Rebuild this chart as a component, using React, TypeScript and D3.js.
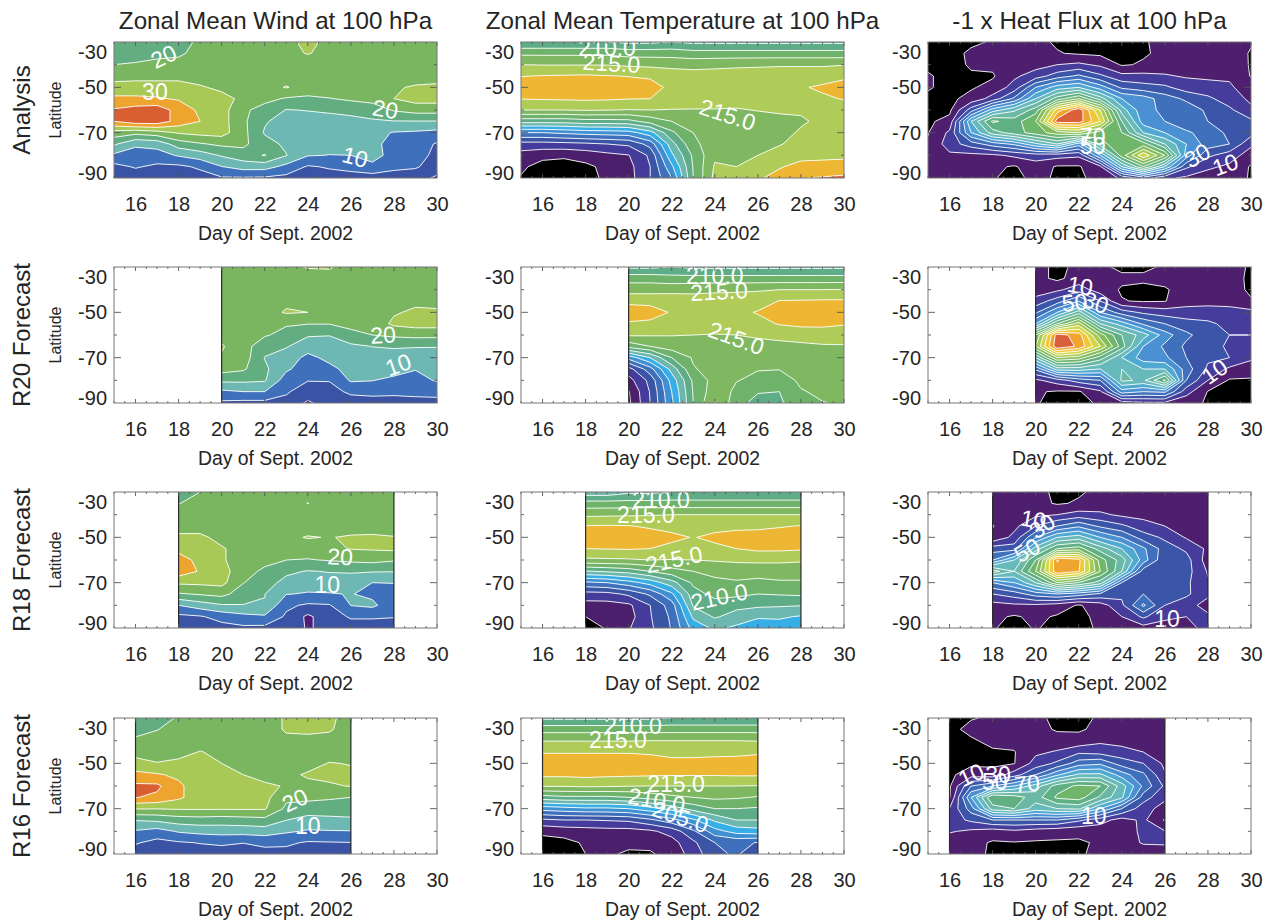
import React, { useEffect, useRef } from 'react';
import * as d3 from 'd3';

// every grid is listed by day (outer) and latitude (inner, -30 down to -90 every 5 deg)
const lats = [-30, -35, -40, -45, -50, -55, -60, -65, -70, -75, -80, -85, -90];
const dayTicks = [16, 18, 20, 22, 24, 26, 28, 30];
const latTicks = [-30, -50, -70, -90];

const rowNames = ['Analysis', 'R20 Forecast', 'R18 Forecast', 'R16 Forecast'];
const colTitles = ['Zonal Mean Wind at 100 hPa', 'Zonal Mean Temperature at 100 hPa', '-1 x Heat Flux at 100 hPa'];
const firstDays = [15, 20, 18, 16];

const windLevels = [0, 5, 10, 15, 20, 25, 30, 35, 40];
const windColors = ['#4e1d78', '#3b53a4', '#3f70bb', '#6eb8b4', '#62ae80', '#7ab660', '#a9c957', '#eea52f', '#d95f32', '#e67a50'];
const tempLevels = [190, 192.5, 195, 197.5, 200, 202.5, 205, 207.5, 210, 212.5, 215, 217.5, 220];
const tempColors = ['#000000', '#4b1f6c', '#443b9a', '#3b55a6', '#3f70bb', '#3f90d2', '#37aee5', '#6cb8ae', '#5fad86', '#6fb26a', '#7fb860', '#b0cc58', '#eeb733', '#d0683a'];
const heatLevels = [0, 10, 20, 30, 40, 50, 60, 70, 80, 90, 100, 110, 120, 130, 140, 150];
const heatColors = ['#000000', '#4e1f6e', '#463c9c', '#3b55a8', '#3f70bb', '#4a90d2', '#4fa9d0', '#68b9bc', '#6bb9a4', '#60b084', '#70b66a', '#84bc5c', '#a9c957', '#d3d84a', '#f0c83a', '#efa52f', '#d9603a'];

const windAnalysis = [
  [16, 17, 20, 23, 27, 31, 35.5, 35, 23, 15.8, 9, 3.5, 2],
  [17, 18, 20.5, 23.5, 27, 31, 37, 38, 21.5, 10.8, 8, 5.5, 2],
  [18, 19, 21, 23.5, 27, 30.5, 38, 38, 23, 11.7, 8, 4, 2],
  [19, 19.5, 21, 23.5, 27, 29.5, 33, 33, 25.5, 17.5, 10.5, 4, 2],
  [20.5, 21, 22, 23, 25.5, 28, 29, 30, 26.5, 19.5, 12.5, 5.8, 3],
  [22, 22, 22, 22, 24, 26.5, 27, 27, 27, 21, 15.5, 9.9, 4.5],
  [23, 23, 22, 22, 23, 24, 21, 21, 21.5, 21, 18, 12, 4.5],
  [23, 23, 22, 22, 23, 21.5, 18, 15.5, 14.5, 17, 20.3, 12, 4.3],
  [24, 24, 23, 23, 25.3, 19.5, 14.8, 13, 12, 14, 15.2, 8.5, 3.5],
  [26, 25.2, 23, 23, 23, 19, 15.2, 13, 12, 12, 10.3, 4.5, 3],
  [24, 24, 23, 23, 23, 19.8, 15.8, 13, 11.5, 11.5, 9.9, 5.5, 3],
  [23, 23, 23, 23, 23, 20.8, 16.5, 13.5, 11.5, 11, 10, 6.5, 3],
  [23, 23, 23, 23, 23.5, 22, 17, 14.5, 11.5, 11.5, 13, 8, 3],
  [23, 23, 23, 23, 24.5, 25, 20.5, 14.8, 9.7, 8, 7, 6, 3],
  [23, 23, 23, 23, 25.5, 27, 22, 14.8, 9.3, 7.5, 6.5, 5.5, 2.5],
  [23, 23, 23, 23, 26, 27, 22, 14.8, 8.5, 4.5, 4, 3, -1],
];
const windR20 = [
  [22.5, 22, 22, 22, 22.5, 23, 23.5, 25.5, 24.5, 22, 16, 9, 4],
  [23, 22, 22, 22, 22, 22, 22, 22, 22.5, 20.7, 16, 10, 3.5],
  [23, 23, 23, 23, 23, 21, 20.5, 17, 14.8, 16, 15.5, 10, 3.5],
  [24, 23, 23, 24, 25.5, 20.5, 18.5, 15.5, 12, 10.8, 7.5, 5.6, 3.5],
  [25.3, 23, 23, 24, 25, 20.2, 15.6, 11.7, 9, 7.5, 5.2, 2.5, -0.8],
  [25.5, 23, 23, 23, 23, 20.2, 15.2, 12.5, 11, 9, 5.2, 3.5, 2.5],
  [23, 23, 23, 23, 23, 21.5, 18.5, 14, 12, 11.3, 10.6, 5.8, 3],
  [23, 23, 23, 23, 23.5, 22, 20, 15.1, 13, 12, 10.2, 6, 3.5],
  [23, 23, 23, 23.5, 24.5, 26, 21, 15.5, 13, 12.5, 8.5, 5.8, 3.5],
  [23, 23, 23, 24, 25.8, 27, 21.5, 15.3, 12.5, 10.2, 8.5, 5.8, 4],
  [23, 23, 23, 24, 25.5, 27, 21.5, 15.2, 13, 11.5, 10.4, 6.5, 3.5],
];
const windR18 = [
  [17, 19.8, 22, 23, 26, 28, 33, 33, 25.8, 19.5, 10, 3.8, 2],
  [20, 22, 23, 23, 26, 28, 28, 29.5, 26, 20.5, 12.5, 4.5, 2.5],
  [22, 23, 23, 23, 23.5, 25.5, 25.5, 27, 26.5, 21.5, 14.5, 6.8, 3.2],
  [23, 23, 23, 23, 23, 23, 23, 22, 20.2, 17.5, 14.8, 8.5, 4],
  [23, 23, 23, 23, 23, 23, 21.5, 19, 17, 15.1, 14.8, 9.3, 3.7],
  [23, 23, 23, 23, 24, 22.5, 20, 16, 13.5, 10.2, 6, 4.2, 3],
  [23, 25.1, 23, 23, 25.3, 22.5, 19.7, 14.7, 12, 9.6, 4.2, -1, -0.5],
  [23, 23, 23, 23, 24.8, 24, 20.3, 15.3, 12.5, 9.7, 4.6, 3, 1.5],
  [23, 23, 23, 23, 25.5, 25.2, 21, 15.5, 12.5, 10.2, 10.1, 5.5, 3],
  [23, 23, 23, 23, 25.7, 25.5, 21.5, 15.3, 10, 9, 11, 5.5, 3],
  [23, 23, 23, 23, 25.2, 26, 20.5, 15.2, 10.1, 8.5, 7, 5.2, 3],
];
const windR16 = [
  [16.5, 19, 20.5, 23.5, 26.5, 31.5, 36, 35.2, 25.3, 15.3, 9.5, 5.5, 2.5],
  [18, 19.8, 22, 23, 25.2, 30.5, 36, 34, 25.2, 16, 8, 3.5, 2],
  [20.5, 22, 23, 23.5, 26, 29, 31, 31, 25.5, 17.5, 10.5, 4.5, 2.5],
  [22, 23, 23, 25.2, 27, 27.5, 27, 27, 25.5, 18, 11.5, 5.2, 3],
  [23, 23, 23, 24, 25, 26.5, 27, 27, 25.5, 17.5, 12, 5.7, 3],
  [23, 23, 23, 23, 23.5, 25, 26, 27, 25.5, 18, 12, 5.1, 3],
  [23, 23, 23, 23, 23, 24, 25.5, 26.5, 25.5, 18.5, 12.5, 6, 3.5],
  [25.5, 25.5, 24, 23, 23, 24, 24.8, 21, 19, 15.1, 10.7, 5.8, 3.5],
  [26, 25.8, 24, 23, 23.5, 25.5, 24, 21, 18, 13, 9.5, 4.5, 3],
  [26, 25.5, 23.5, 23, 25.2, 26, 24.5, 20.5, 18, 13.5, 9.7, 4.7, 3],
  [23, 23, 23, 23, 24.8, 25.8, 25.2, 20, 18, 14, 9.8, 4.9, 3],
];

const tempAnalysis = [
  [207.5, 212, 215, 217.4, 219, 217.6, 215, 208.5, 200, 194, 191.5, 190.5, 189.8],
  [207.5, 212, 214.9, 217.6, 219, 217.7, 215, 208.5, 200, 194, 190.8, 189, 188.5],
  [207.5, 212, 214.9, 217.7, 219.2, 217.8, 215, 208.5, 200.5, 194.2, 190.5, 188.8, 188.3],
  [207.5, 212, 214.9, 217.8, 219.2, 217.9, 215.2, 209, 201, 194.5, 191, 189.5, 189.5],
  [207.5, 212, 214.9, 217.6, 219, 217.8, 215.1, 209, 201.2, 195, 191.8, 190.6, 190.3],
  [207, 211.5, 214.6, 217.4, 219, 217.6, 214.9, 209.2, 201.5, 195.5, 192.4, 191.7, 191.5],
  [207, 211.5, 214.4, 217.2, 218.3, 217.5, 215, 211, 204, 198.5, 195.5, 195, 195],
  [207.5, 211.5, 214.2, 216.5, 217, 216.5, 214.9, 212.5, 209.5, 206.5, 204.5, 202, 200],
  [207, 211, 214.2, 216, 216.5, 216, 214.9, 213.5, 212.5, 212, 210.5, 210.2, 210],
  [207, 211, 214.4, 216, 216.5, 216, 214.9, 214, 213.5, 213.6, 214.5, 215.3, 215.7],
  [207, 211, 214.6, 216, 216.5, 216, 214.8, 214, 213.7, 214, 214.6, 215, 216],
  [207, 211, 214.7, 216, 216.5, 216, 215.1, 214, 213.8, 214.2, 215, 216, 217.2],
  [207, 211, 214.8, 216, 216.5, 216, 215.3, 214.4, 214.2, 214.8, 216.2, 217.3, 218.3],
  [207, 211, 214.8, 216, 217.2, 216.6, 215.3, 214.7, 215.3, 216, 216.8, 218.2, 219.9],
  [207, 211, 214.8, 216, 218, 217, 215.6, 215.5, 215.7, 216.2, 217, 218.2, 220.2],
  [207, 211, 214.9, 217, 218.5, 217.7, 215.8, 215.6, 215.7, 216.2, 217.3, 217.9, 220.7],
];
const tempR20 = [
  [207, 211.5, 214, 216.8, 219, 217.2, 215.3, 211, 201, 194, 191.5, 189.8, 189.5],
  [207, 211.5, 214, 216.8, 218.5, 217, 215.2, 212.5, 205, 199, 195.8, 195.2, 195],
  [207.5, 211, 214.2, 216.5, 217.3, 216.8, 215.1, 213.8, 210, 206, 203.5, 202.5, 202],
  [207, 211, 214.4, 216, 216.5, 216.2, 215, 214, 212.8, 212.3, 210.5, 210.2, 210],
  [207, 211, 214.6, 216, 216.3, 216, 214.9, 214, 213.5, 213.4, 213.5, 214, 215.2],
  [207, 211, 214.7, 216, 216.8, 216, 215, 214.2, 213.7, 213.2, 212.6, 212, 211],
  [207, 211, 214.8, 216.2, 217.7, 216.6, 215.3, 214.3, 213.4, 212.6, 212, 210.2, 209],
  [207, 211, 215, 217.6, 218.5, 217.7, 215.6, 214.4, 213.4, 212.6, 211.2, 210, 209.6],
  [207, 211, 215, 217.7, 218.7, 218.1, 216, 214.5, 213.6, 213, 213, 212.3, 211.5],
  [207, 211, 215, 217.8, 218.7, 218, 216.4, 214.7, 214, 213.8, 213.5, 213, 212.4],
  [207, 211, 215.1, 217.8, 218.7, 217.7, 216.2, 214.8, 214, 214, 213.6, 213.1, 212.8],
];
const tempR18 = [
  [206, 211, 214.5, 217.6, 219, 217.5, 214.5, 207.3, 199.5, 194, 191.5, 190, 189],
  [206, 211, 214.6, 217.7, 219, 217.6, 214.6, 207.8, 200, 194.2, 191.5, 190.5, 190.2],
  [207, 211, 214.7, 217.6, 218.8, 217.7, 214.7, 208.5, 201.5, 195.5, 192, 191.5, 192.3],
  [207, 211, 214.8, 217.2, 218.5, 217.5, 215, 210, 203.5, 198, 195, 194.8, 194.5],
  [207.5, 211, 215, 216.8, 218, 216.9, 214.9, 211.5, 206.5, 202, 198.8, 198, 197.7],
  [207.5, 211, 215, 216.5, 217.4, 216.6, 215, 212.5, 210.5, 209, 207.8, 205.5, 203.5],
  [207.5, 211, 215, 216.8, 218, 217, 215.2, 213.3, 211.8, 210.7, 209, 207.8, 205.5],
  [207.5, 211, 215, 217, 218.3, 217.5, 215.4, 213.6, 212.2, 210.6, 208.2, 206.5, 204.5],
  [207.5, 211, 215, 217, 218.5, 218, 215.6, 213.3, 212, 210, 208, 205.2, 204],
  [207.5, 211, 215, 217.3, 218.7, 218, 215.5, 213.6, 212.2, 210.2, 207.8, 205.3, 204],
  [207.5, 211, 215, 217.6, 218.8, 217.8, 215.3, 213.6, 212.2, 210.4, 207.6, 204.8, 203.8],
];
const tempR16 = [
  [207, 211.5, 214.9, 217.3, 219, 218, 215.2, 209, 201, 194.5, 190.6, 189, 188.5],
  [207, 211.5, 214.9, 217.3, 219, 218, 215.2, 209.5, 201.5, 195, 191, 189.3, 189],
  [207, 211.5, 214.9, 217.3, 219, 218.2, 215.4, 209.5, 202, 195, 191.3, 190.3, 190],
  [207, 211.5, 214.9, 217.3, 219, 218, 215.3, 209.5, 202, 195.2, 191.5, 190.8, 190.3],
  [207, 211.5, 214.9, 217.3, 219, 217.9, 215.1, 210, 202.5, 195.5, 191.5, 190.5, 189.7],
  [207, 211.5, 215, 217.2, 218.5, 217.8, 215, 211, 204, 197, 192, 190.7, 189.7],
  [207.5, 211.5, 215, 217, 218, 217.7, 215, 212, 206, 199, 193.5, 191.5, 191],
  [207.5, 211.5, 215, 217, 218, 217.7, 215, 212.5, 208.5, 202, 197, 194.5, 193.5],
  [207.5, 211.5, 215, 217, 218.2, 217.7, 215, 213, 210, 205.5, 201.5, 197.5, 197],
  [207.5, 211.5, 215, 217, 218.3, 217.8, 215, 212.8, 210, 207.5, 203.5, 198, 197.8],
  [207.5, 211.5, 214.9, 217.2, 218.5, 217.8, 214.9, 212.3, 209.7, 207.5, 204, 197.4, 196],
];

const heatAnalysis = [
  [-3, -3, -2, 1, 1, -2, -2, -1.5, -0.5, 1, 2, 2, 2],
  [-4, -4, -3, -3, -3, -2, -2, 3, 12, 15, 8, 3, 3],
  [-2, 2, 1, -1, -1, 3, 25, 60, 50, 25, 7, 3, 3],
  [1, 3, 2, -1, 3, 14, 55, 92, 75, 35, 8, 2, 0.5],
  [2, 4, 3, 8, 14, 32, 68, 85, 85, 42, 12, -1, -2],
  [2, 2, 6, 15, 40, 60, 85, 100, 95, 58, 15, 5, 2],
  [-1, 0.5, 10, 25, 55, 85, 135, 155, 105, 70, 14, -1, -1],
  [-2, -1, 12, 32, 60, 100, 157, 155, 110, 45, 12, -1, -1],
  [-2, -2, 8, 22, 45, 75, 120, 130, 95, 85, 50, 8, 2],
  [-2, -1, -1, 13, 28, 50, 65, 80, 90, 100, 95, 60, 12],
  [-1, -1, 1, 13, 24, 45, 43, 45, 60, 95, 128, 90, 25],
  [3, 2, 5, 11, 22, 35, 38, 40, 50, 70, 100, 60, 12],
  [3, 5, 5, 9, 15, 28, 36, 32, 42, 50, 45, 22, 8],
  [2, 5, 7, 8, 14, 22, 28, 30, 35, 35, 22, 12, 5],
  [3, 6, 7, 8, 12, 15, 22, 25, 28, 30, 15, 8, 5],
  [1, -1, -1, -0.5, 3, 8, 12, 22, 24, 12, 5, -1, -1],
];
const heatR20 = [
  [3, 3, 4, 14, 28, 50, 100, 110, 70, 32, 8, 1, 0.5],
  [-2, -2, 8, 25, 50, 90, 155, 158, 110, 65, 15, -1, -2],
  [2, 4, 15, 40, 75, 115, 145, 148, 105, 65, 25, -1, -2],
  [2, 3, 5, 20, 40, 70, 105, 120, 85, 60, 30, 8, 1],
  [-2, 2, -1, 0.5, 25, 55, 80, 85, 60, 70, 72, 45, 5],
  [-1.5, 1.5, -2, -1, 18, 38, 65, 50, 45, 60, 68, 40, 8],
  [1, 3, -1, -0.5, 15, 30, 45, 38, 42, 60, 92, 42, 8],
  [2, 3, 4, 7, 13, 25, 32, 28, 30, 35, 30, 14, 3],
  [3, 4, 5, 7, 14, 22, 25, 25, 22, 18, 10, -0.5, -1],
  [3, 4, 5, 7, 13, 17, 20, 18, 20, 8, -1, -2, -2],
  [-1, -2, -2, 1, 13, 17, 20, 18, 12, 4, -1, -2, -2],
];
const heatR18 = [
  [4, 3, 3, -0.5, 2, 25, 40, 85, 40, 20, 6, 2, 0.5],
  [5, 7, 5, 7, 13, 25, 60, 70, 50, 25, 8, -1, -2],
  [3, 3, 8, 20, 40, 65, 90, 100, 70, 35, 8, 2, 0.5],
  [-2, -1, 10, 30, 60, 90, 150.5, 148, 100, 40, 5, -1, -2],
  [-1, 1, 14, 38, 65, 95, 143, 141, 90, 35, -1, -2, -2],
  [2, 4, 12, 28, 50, 75, 95, 100, 75, 28, 5, 2, 1],
  [3, 6, 8, 22, 40, 60, 75, 70, 30, 22, 18, 10, 4],
  [3, 6, 7, 14, 25, 42, 45, 25, 25, 30, 42, 22, 6],
  [2, 5, 7, 10, 18, 25, 22, 24, 25, 28, 20, 11, 8],
  [3, 4, 3, 6, 9, 18, 24, 24, 22, 22, 14, 10, 8],
  [3, 5, 7, 8, 8, 8, 5, 9, 11, 12, 6, 12, 12],
];
const heatR16 = [
  [-1, -2, -2, -2, -2, -2, -1.5, -1, 10.5, 15, 11, 4, 2],
  [-0.5, 2, -1, -2, -2, 5, 30, 50, 35, 22, 8, 3, 2],
  [1, 2, 2, -1, -1.5, 3, 40, 90, 75, 30, 5, -1, -1],
  [0.5, 2, 3, -0.5, -0.5, 15, 50, 85, 80, 30, 8, -0.5, -1],
  [1, 3, 5, 8, 14, 30, 65, 75, 65, 30, 5, -1, -1],
  [-1, -1, 4, 11, 22, 48, 85, 92, 70, 30, 3, -1, -1],
  [-1, -1, 3, 18, 35, 62, 92, 95, 72, 22, 2, -1, -1],
  [0.5, 2, 8, 16, 38, 62, 90, 78, 50, 14, 4, 1, 2],
  [2, 3, 6, 14, 25, 45, 65, 62, 30, 6, 5, 5, 4],
  [2, 3, 5, 10, 20, 32, 38, 25, 14, 12, 12, 11, 4],
  [2, 2, 4, 6, 8, 11, 18, 12, 6, -1, 10.5, 10.5, 8],
];

// [text, day, latitude, angle]
const windLabels = [
  [['20', 17.3, -36.3, -25], ['30', 16.9, -51.8, 0], ['20', 27.6, -59.6, 10], ['10', 26.2, -80.7, 15]],
  [['20', 27.5, -59.9, -3], ['10', 28.2, -73, -20]],
  [['20', 25.5, -58.5, 3], ['10', 24.9, -71, 0]],
  [['20', 23.4, -66.2, -25], ['10', 24, -77.5, 0]],
];
const tempLabels = [
  [['210.0', 19, -32.6, 0], ['215.0', 19.2, -39.3, 3], ['215.0', 24.6, -62, 18]],
  [['210.0', 24, -33.8, 0], ['215.0', 24.2, -40.7, -3], ['215.0', 25, -61.3, 20]],
  [['210.0', 21.5, -33.5, 0], ['215.0', 20.8, -39.9, 0], ['215.0', 22.1, -59.7, -12], ['210.0', 24.2, -76.2, -12]],
  [['210.0', 20.2, -33.5, 0], ['215.0', 19.5, -39.4, 0], ['215.0', 22.2, -59.1, 0], ['210.0', 21.3, -66.2, 10], ['205.0', 22.4, -73.5, 18]],
];
const heatLabels = [
  [['70', 22.65, -71.6, 0], ['50', 22.65, -75.7, 0], ['30', 27.5, -80, -30], ['10', 28.8, -84, -20]],
  [['10', 22.07, -38.2, 10], ['50', 21.8, -45.6, -5], ['30', 22.8, -45.6, 20], ['10', 28.3, -76, -35]],
  [['10', 19.9, -42, 10], ['30', 20.3, -45, -35], ['50', 19.6, -55.6, -30], ['10', 26.1, -85.9, 0]],
  [['10', 17, -55, -25], ['30', 18.25, -55, 0], ['50', 18.1, -58, 0], ['70', 19.6, -58.8, -5], ['10', 22.7, -73.2, 0]],
];

const columns = [
  { levels: windLevels, colors: windColors, grids: [windAnalysis, windR20, windR18, windR16], labels: windLabels },
  { levels: tempLevels, colors: tempColors, grids: [tempAnalysis, tempR20, tempR18, tempR16], labels: tempLabels },
  { levels: heatLevels, colors: heatColors, grids: [heatAnalysis, heatR20, heatR18, heatR16], labels: heatLabels },
];

const font = '"Liberation Sans", Arial, sans-serif';
const textColor = '#252525';
const colLeft = [114, 521, 928];
const rowTop = [42, 267, 492, 718];
const panelW = 323;
const panelH = 136;

function drawPanel(svg: any, id: string, left: number, top: number, grid: number[][], firstDay: number, levels: number[], colors: string[], labels: any[], withLatitude: boolean) {
  const x = d3.scaleLinear().domain([15, 30]).range([left, left + panelW]);
  const y = d3.scaleLinear().domain([-30, -90]).range([top, top + panelH]);
  const lastDay = firstDay + grid.length - 1;

  svg.append('clipPath').attr('id', id).append('rect')
    .attr('x', x(firstDay)).attr('y', top)
    .attr('width', x(lastDay) - x(firstDay)).attr('height', panelH);

  const nx = grid.length;
  const ny = lats.length;
  const flat: number[] = [];
  for (let j = 0; j < ny; j++) for (let i = 0; i < nx; i++) flat.push(grid[i][j]);

  // d3.contours puts grid node i at i + 0.5
  const path = d3.geoPath(d3.geoTransform({
    point(px: number, py: number) {
      (this as any).stream.point(x(firstDay + px - 0.5), y(-30 - (py - 0.5) * 5));
    },
  }));

  const g = svg.append('g').attr('clip-path', `url(#${id})`);
  g.append('rect')
    .attr('x', x(firstDay)).attr('y', top)
    .attr('width', x(lastDay) - x(firstDay)).attr('height', panelH)
    .attr('fill', colors[0]);

  const contours = d3.contours().size([nx, ny]).thresholds(levels)(flat);
  g.selectAll('path').data(contours).join('path')
    .attr('d', (c: any) => path(c))
    .attr('fill', (_: any, i: number) => colors[i + 1])
    .attr('stroke', '#ffffff')
    .attr('stroke-width', 1)
    .attr('stroke-opacity', 0.9)
    .attr('stroke-linejoin', 'round');

  g.selectAll('text').data(labels).join('text')
    .attr('transform', (d: any) => `translate(${x(d[1])},${y(d[2])}) rotate(${d[3]})`)
    .attr('text-anchor', 'middle')
    .attr('dy', '0.36em')
    .attr('font-family', font)
    .attr('font-size', 23)
    .attr('fill', '#ffffff')
    .text((d: any) => d[0]);

  // edges of a forecast window
  const edges = [firstDay, lastDay].filter((d) => d > 15 && d < 30);
  svg.append('g').selectAll('line').data(edges).join('line')
    .attr('x1', (d: number) => x(d)).attr('x2', (d: number) => x(d))
    .attr('y1', top).attr('y2', top + panelH)
    .attr('stroke', '#2a2a2a').attr('stroke-width', 1.2);

  // inward ticks on all four sides
  const ticks = svg.append('g').attr('stroke', '#555').attr('stroke-width', 0.9);
  d3.range(15, 30.01, 0.5).forEach((d) => {
    const len = d % 2 === 0 ? 4 : 2;
    ticks.append('line').attr('x1', x(d)).attr('x2', x(d)).attr('y1', top).attr('y2', top + len);
    ticks.append('line').attr('x1', x(d)).attr('x2', x(d)).attr('y1', top + panelH).attr('y2', top + panelH - len);
  });
  d3.range(-80, -30, 10).forEach((l) => {
    const len = l % 20 === 0 ? 3 : 7;
    ticks.append('line').attr('x1', left).attr('x2', left + len).attr('y1', y(l)).attr('y2', y(l));
    ticks.append('line').attr('x1', left + panelW).attr('x2', left + panelW - len).attr('y1', y(l)).attr('y2', y(l));
  });

  svg.append('rect')
    .attr('x', left).attr('y', top).attr('width', panelW).attr('height', panelH)
    .attr('fill', 'none').attr('stroke', '#777').attr('stroke-width', 1);

  const xAxis = svg.append('g')
    .attr('transform', `translate(0,${top + panelH})`)
    .call(d3.axisBottom(x).tickValues(dayTicks).tickSize(0).tickPadding(19).tickFormat((d: any) => String(d)));
  const yAxis = svg.append('g')
    .attr('transform', `translate(${left},0)`)
    .call(d3.axisLeft(y).tickValues(latTicks).tickSize(0).tickPadding(7).tickFormat((d: any) => String(d)));
  [xAxis, yAxis].forEach((a) => {
    a.select('.domain').remove();
    a.selectAll('text').attr('font-family', font).attr('font-size', 20).attr('fill', textColor);
  });
  // the end labels sit inside the axis span
  yAxis.selectAll('text').attr('dy', (d: number) => (d === -30 ? '0.8em' : d === -90 ? '0.05em' : '0.32em'));

  svg.append('text')
    .attr('x', left + panelW / 2).attr('y', top + panelH + 62)
    .attr('text-anchor', 'middle').attr('font-family', font).attr('font-size', 19.4).attr('fill', textColor)
    .text('Day of Sept. 2002');

  if (withLatitude) {
    svg.append('text')
      .attr('transform', `translate(61,${top + panelH / 2}) rotate(-90)`)
      .attr('text-anchor', 'middle').attr('font-family', font).attr('font-size', 16).attr('fill', textColor)
      .text('Latitude');
  }
}

export default function App() {
  const ref = useRef<SVGSVGElement>(null);

  useEffect(() => {
    document.body.style.margin = '0';
    const svg = d3.select(ref.current);
    svg.selectAll('*').remove();

    columns.forEach((col, c) => {
      svg.append('text')
        .attr('x', colLeft[c] + panelW / 2).attr('y', 29)
        .attr('text-anchor', 'middle').attr('font-family', font).attr('font-size', 24.2).attr('fill', textColor)
        .text(colTitles[c]);
      rowTop.forEach((top, r) => {
        drawPanel(svg, `clip-${c}-${r}`, colLeft[c], top, col.grids[r], firstDays[r], col.levels, col.colors, col.labels[r], c === 0);
      });
    });

    rowTop.forEach((top, r) => {
      svg.append('text')
        .attr('transform', `translate(30,${top + panelH / 2}) rotate(-90)`)
        .attr('text-anchor', 'middle').attr('font-family', font).attr('font-size', 24).attr('fill', textColor)
        .text(rowNames[r]);
    });
  }, []);

  return <svg ref={ref} width={1271} height={922} style={{ display: 'block', background: '#fff' }} />;
}
